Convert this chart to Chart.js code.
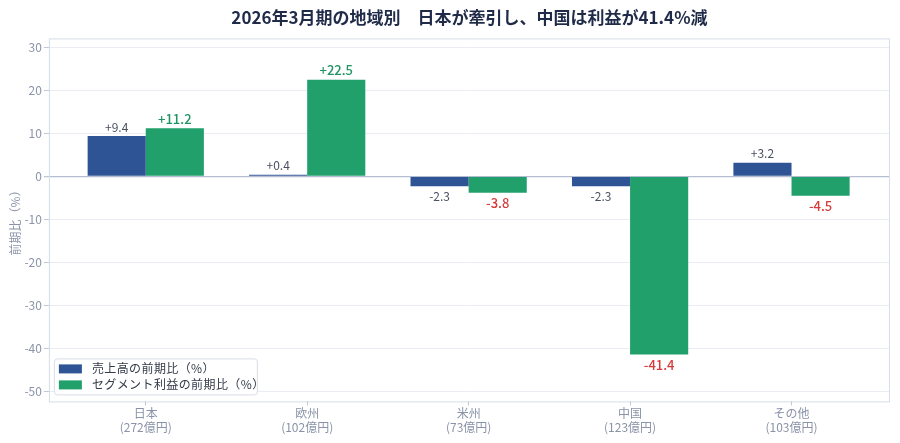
<!DOCTYPE html>
<html>
<head>
<meta charset="utf-8">
<script src="https://cdn.jsdelivr.net/npm/chart.js@4"></script>
<style>
  body { margin: 0; background: #fff; }
  #wrap { width: 900px; height: 443px; }
</style>
</head>
<body>
<div id="wrap"><canvas id="grafico"></canvas></div>
<script>
// regiones
const regiones = ["日本", "欧州", "米州", "中国", "その他"];
const ventas_base = ["272億円", "102億円", "73億円", "123億円", "103億円"];

// series
const ventas_yoy = [9.4, 0.4, -2.3, -2.3, 3.2];
const beneficio_yoy = [11.2, 22.5, -3.8, -41.4, -4.5];

const etiquetas = ["売上高の前期比（%）", "セグメント利益の前期比（%）"];
const yTicks = [30, 20, 10, 0, -10, -20, -30, -40, -50];

const FONT = "'Noto Sans CJK JP', 'Noto Sans', sans-serif";
const AZUL = "#2e5495";
const VERDE = "#21a06c";
const VERDE_TXT = "#1f9463";
const ROJO = "#d63a3a";
const GRIS = "#8a93a8";

const toPoints = (arr) => arr.map((v, i) => ({ x: i, y: v }));
const fmt = (v) => (v > 0 ? "+" : "") + v.toFixed(1);

// borde + etiquetas + leyenda
const extras = {
  id: "extras",
  afterDatasetsDraw(chart) {
    const ctx = chart.ctx;
    const a = chart.chartArea;
    ctx.save();
    ctx.strokeStyle = "#d6dce8";
    ctx.lineWidth = 1;
    ctx.strokeRect(a.left + 0.5, a.top + 0.5, a.right - a.left - 1, a.bottom - a.top);

    chart.data.datasets.forEach((ds, di) => {
      const meta = chart.getDatasetMeta(di);
      meta.data.forEach((bar, i) => {
        const v = ds.data[i].y;
        if (di === 0) {
          ctx.font = "12px " + FONT;
          ctx.fillStyle = "#4a5060";
        } else {
          ctx.font = "500 13px " + FONT;
          ctx.fillStyle = v >= 0 ? VERDE_TXT : ROJO;
        }
        ctx.textAlign = "center";
        if (v >= 0) {
          ctx.textBaseline = "bottom";
          ctx.fillText(fmt(v), bar.x, bar.y - 3);
        } else {
          ctx.textBaseline = "top";
          ctx.fillText(fmt(v), bar.x, bar.y + 4);
        }
      });
    });

    // leyenda
    const lx = a.left + 5, ly = a.bottom - 43;
    ctx.fillStyle = "rgba(255,255,255,0.9)";
    ctx.strokeStyle = "#d8dde6";
    ctx.beginPath();
    ctx.roundRect(lx + 0.5, ly + 0.5, 203, 36, 3);
    ctx.fill();
    ctx.stroke();
    const cols = [AZUL, VERDE];
    ctx.font = "12px " + FONT;
    ctx.textAlign = "left";
    ctx.textBaseline = "middle";
    etiquetas.forEach((t, k) => {
      const yy = ly + 10 + k * 16;
      ctx.fillStyle = cols[k];
      ctx.fillRect(lx + 5, yy - 4, 23, 9);
      ctx.fillStyle = "#333a48";
      if (ctx.letterSpacing !== undefined) ctx.letterSpacing = "0.4px";
      ctx.fillText(t, lx + 38, yy);
      if (ctx.letterSpacing !== undefined) ctx.letterSpacing = "0px";
    });
    ctx.restore();
  },
};

new Chart(document.getElementById("grafico"), {
  type: "bar",
  data: {
    datasets: [
      {
        label: etiquetas[0],
        data: toPoints(ventas_yoy),
        backgroundColor: AZUL,
        borderWidth: 0,
        categoryPercentage: 0.72,
        barPercentage: 1.0,
      },
      {
        label: etiquetas[1],
        data: toPoints(beneficio_yoy),
        backgroundColor: VERDE,
        borderWidth: 0,
        categoryPercentage: 0.72,
        barPercentage: 1.0,
      },
    ],
  },
  options: {
    responsive: true,
    maintainAspectRatio: false,
    animation: false,
    layout: { padding: { left: 8, right: 10, top: 0, bottom: 8 } },
    plugins: {
      legend: { display: false },
      tooltip: { enabled: false },
      title: {
        display: true,
        fullSize: false,
        text: "2026年3月期の地域別　日本が牽引し、中国は利益が41.4%減",
        color: "#1f2b48",
        font: { family: FONT, size: 17, weight: "bold" },
        padding: { top: 7, bottom: 11 },
      },
    },
    scales: {
      x: {
        type: "linear",
        min: -0.6,
        max: 4.61,
        offset: false,
        afterBuildTicks: (axis) => {
          axis.ticks = regiones.map((r, i) => ({ value: i }));
        },
        ticks: {
          color: GRIS,
          font: { family: FONT, size: 12, lineHeight: 1.15 },
          padding: 1,
          maxRotation: 0,
          autoSkip: false,
          callback: (v) => [regiones[v], "(" + ventas_base[v] + ")"],
        },
        grid: {
          offset: false,
          drawOnChartArea: false,
          drawTicks: true,
          tickLength: 4,
          color: "#c0c7d4",
        },
        border: { display: false },
      },
      y: {
        min: -52.3,
        max: 32.1,
        afterBuildTicks: (axis) => {
          axis.ticks = yTicks.map((v) => ({ value: v }));
        },
        ticks: {
          color: GRIS,
          font: { family: FONT, size: 12 },
          padding: 2,
        },
        grid: {
          color: (c) => (c.tick && c.tick.value === 0 ? "#b4bed0" : "#e9edf3"),
          lineWidth: (c) => (c.tick && c.tick.value === 0 ? 1.3 : 1),
          tickColor: "#c0c7d4",
          tickLength: 5,
        },
        border: { display: false },
        title: {
          display: true,
          text: "前期比（%）",
          color: GRIS,
          font: { family: FONT, size: 12 },
          padding: { top: 0, bottom: 0 },
        },
      },
    },
  },
  plugins: [extras],
});
</script>
</body>
</html>
